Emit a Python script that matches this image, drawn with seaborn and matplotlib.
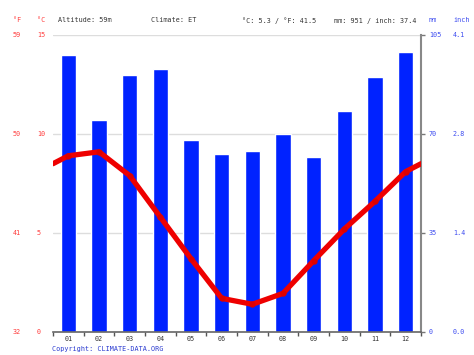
import matplotlib
matplotlib.use("Agg")
import matplotlib.pyplot as plt
import seaborn as sns
import numpy as np
import pandas as pd

# ---- data ----
months = ["01", "02", "03", "04", "05", "06", "07", "08", "09", "10", "11", "12"]
precip_mm = [98, 75, 91, 93, 68, 63, 64, 70, 62, 78, 90, 99]
temp_c = [8.9, 9.1, 7.9, 5.8, 3.7, 1.7, 1.4, 1.95, 3.6, 5.2, 6.6, 8.1]
temp_ticks_c = [0, 5, 10, 15]
temp_ticks_f = [32, 41, 50, 59]
precip_ticks_mm = [0, 35, 70, 105]
precip_ticks_in = ["0.0", "1.4", "2.8", "4.1"]
header = {"alt": "Altitude: 59m", "clim": "Climate: ET",
          "temp": "°C: 5.3 / °F: 41.5", "prec": "mm: 951 / inch: 37.4"}

sns.set_style("white")
plt.rcParams["font.family"] = ["DejaVu Sans Mono", "DejaVu Sans"]
FS = 4.9
RED = "#ff3b3b"
BLUE_TXT = "#3d4cf0"
GREY_TXT = "#333333"

W, H = 474, 355
fig = plt.figure(figsize=(W / 100, H / 100), dpi=100)
x0, x1, y0, y1 = 53, 421, 35, 332
ax = fig.add_axes([x0 / W, 1 - y1 / H, (x1 - x0) / W, (y1 - y0) / H])

df = pd.DataFrame({"month": months, "mm": precip_mm})
sns.barplot(data=df, x="month", y="mm", ax=ax, color="#0022ff",
            saturation=1, width=0.5, zorder=2)

# temperature line (wrapped to the plot edges)
ax2 = ax.twinx()
edge = (temp_c[0] + temp_c[-1]) / 2
xs = [-0.5] + list(range(len(months))) + [len(months) - 0.5]
ys = [edge] + temp_c + [edge]
sns.lineplot(x=xs, y=ys, ax=ax2, color="#ee0000", linewidth=3.8, sort=False,
             zorder=3)
ax2.plot(range(len(months)), temp_c, "o", color="#dd0000", markersize=3.5, zorder=4)
ax2.set_ylim(0, 15)
ax2.set_yticks([])
ax2.tick_params(left=False, right=False, bottom=False, top=False)
ax2.set_xlim(-0.5, len(months) - 0.5)
for s in ax2.spines.values():
    s.set_visible(False)
ax2.set_ylabel("")

# primary axis styling (after twinx, which moves ticks to the left)
ax.set_xlim(-0.5, len(months) - 0.5)
ax.set_ylim(0, 105)
ax.set_yticks(precip_ticks_mm)
ax.set_yticklabels([])
ax.yaxis.tick_right()
ax.tick_params(axis="y", left=False, right=True, length=3, width=1, color="#777777")
ax.set_axisbelow(True)
ax.grid(axis="y", color="#dddddd", linewidth=1)
ax.set_xlabel("")
ax.set_ylabel("")
for s in ["left", "top"]:
    ax.spines[s].set_visible(False)
ax.spines["right"].set_visible(True)
ax.spines["right"].set_color("#888888")
ax.spines["right"].set_linewidth(1.5)
ax.spines["bottom"].set_color("#666666")
ax.spines["bottom"].set_linewidth(1.2)
ax.set_xticks(range(len(months)))
ax.set_xticklabels([])
ax.tick_params(axis="x", which="major", length=0)
ax.set_xticks(np.arange(-0.5, len(months), 1.0), minor=True)
ax.tick_params(axis="x", which="minor", length=3, width=1, color="#555555", bottom=True)

def px_text(xpx, ypx, s, color, ha="left"):
    fig.text(xpx / W, 1 - ypx / H, s, color=color, fontsize=FS, ha=ha, va="center")

scale_c = (y1 - y0) / 15.0
for c, f in zip(temp_ticks_c, temp_ticks_f):
    ypx = y1 - c * scale_c
    px_text(13, ypx, str(f), RED)
    px_text(37, ypx, str(c), RED)
scale_mm = (y1 - y0) / 105.0
for m, i in zip(precip_ticks_mm, precip_ticks_in):
    ypx = y1 - m * scale_mm
    px_text(429, ypx, str(m), BLUE_TXT)
    px_text(453, ypx, i, BLUE_TXT)

for i, m in enumerate(months):
    xpx = x0 + (i + 0.5) * (x1 - x0) / len(months)
    px_text(xpx, 339, m, GREY_TXT, ha="center")

px_text(13, 20.5, "°F", RED)
px_text(37, 20.5, "°C", RED)
px_text(58, 20.5, header["alt"], GREY_TXT)
px_text(151, 20.5, header["clim"], GREY_TXT)
px_text(242, 20.5, header["temp"], GREY_TXT)
px_text(334, 20.5, header["prec"], GREY_TXT)
px_text(429, 20.5, "mm", BLUE_TXT)
px_text(453, 20.5, "inch", BLUE_TXT)

px_text(52, 348.5, "Copyright: CLIMATE-DATA.ORG", "#2a3ad0")

fig.savefig("out.png", dpi=100)
